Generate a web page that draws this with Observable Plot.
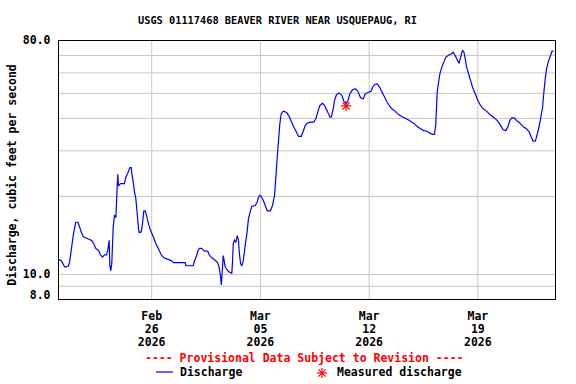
<!DOCTYPE html>
<html><head><meta charset="utf-8">
<script src="https://cdn.jsdelivr.net/npm/d3@7"></script>
<script src="https://cdn.jsdelivr.net/npm/@observablehq/plot@0.6"></script>
<style>
body{margin:0;background:#fff;}
#wrap{position:relative;width:576px;height:384px;overflow:hidden;font-family:"DejaVu Sans Mono",monospace;font-weight:bold;color:#000;}
#title{position:absolute;left:0;top:15.3px;width:555px;text-align:center;font-size:10.3px;line-height:1;white-space:pre;}
#chart{position:absolute;left:0;top:30px;}
.lg{position:absolute;font-size:11.5px;line-height:1;white-space:pre;}
#prov{left:145px;top:353.3px;color:#ff0000;}
</style></head><body>
<div id="wrap">
  <div id="title"></div>
  <div id="chart"></div>
  <div id="prov" class="lg"></div>
  <svg style="position:absolute;left:154px;top:366px" width="22" height="12"><line x1="2" x2="19" y1="6" y2="6" stroke="#0000ff" stroke-width="1.2"/></svg>
  <div id="lg1" class="lg" style="left:180px;top:367.3px"></div>
  <svg style="position:absolute;left:315px;top:366px" width="14" height="14"><g stroke="#ff0000" stroke-width="1.2" transform="translate(7,7)"><line x1="-5" x2="5" y1="0" y2="0"/><line x1="0" x2="0" y1="-5" y2="5"/><line x1="-3.6" x2="3.6" y1="-3.6" y2="3.6"/><line x1="-3.6" x2="3.6" y1="3.6" y2="-3.6"/></g></svg>
  <div id="lg2" class="lg" style="left:337px;top:367.3px"></div>
</div>
<script>
const titleText = "USGS 01117468 BEAVER RIVER NEAR USQUEPAUG, RI";
const yLabel = "Discharge, cubic feet per second";
const provisionalText = "---- Provisional Data Subject to Revision ----";
const seriesName = "Discharge";
const measuredName = "Measured discharge";
const year = 2026;
const xDomain = ["02-20 00:00", "03-24 00:00"];
const yDomain = [8, 80];
const xTicks = ["02-26 00:00", "03-05 00:00", "03-12 00:00", "03-19 00:00"];
const yTickLabels = [10, 80];
const yBottomLabel = [8];
const yGrid = [9, 10, 20, 30, 40, 50, 60, 70];

const times = [
"02-20 00:00","02-20 04:10","02-20 06:10","02-20 09:20","02-20 12:20","02-20 15:30","02-20 17:30","02-20 19:40","02-20 21:40","02-20 23:40",
"02-21 02:40","02-21 05:50","02-21 08:50","02-21 11:00","02-21 14:10","02-21 17:20","02-21 22:20","02-22 03:30","02-22 06:40","02-22 09:40",
"02-22 13:50","02-22 16:50","02-22 20:00","02-22 23:00","02-23 02:10","02-23 04:10","02-23 06:20","02-23 07:20","02-23 08:50","02-23 10:20",
"02-23 12:30","02-23 14:30","02-23 16:40","02-23 18:40","02-23 19:40","02-23 20:40","02-23 23:50","02-24 06:00","02-24 08:00","02-24 11:00",
"02-24 14:10","02-24 16:20","02-24 17:20","02-24 19:30","02-24 21:30","02-24 23:30","02-25 01:40","02-25 03:40","02-25 04:40","02-25 07:50",
"02-25 09:50","02-25 11:50","02-25 14:00","02-25 16:00","02-25 19:00","02-25 22:10","02-26 02:20","02-26 05:30","02-26 09:30","02-26 14:40",
"02-26 18:40","02-27 06:10","02-27 09:20","02-28 03:50","02-28 04:50","02-28 16:10","02-28 18:10","02-28 21:20","02-28 23:20","03-01 01:30",
"03-01 05:30","03-01 09:30","03-01 14:40","03-01 16:50","03-01 20:00","03-01 23:00","03-02 03:00","03-02 06:10","03-02 08:30","03-02 10:30",
"03-02 11:30","03-02 12:30","03-02 14:30","03-02 15:30","03-02 17:30","03-02 20:40","03-02 23:50","03-03 03:50","03-03 05:00","03-03 06:00",
"03-03 08:00","03-03 10:00","03-03 12:10","03-03 14:10","03-03 15:20","03-03 17:20","03-03 19:20","03-03 21:30","03-03 23:30","03-04 01:30",
"03-04 03:30","03-04 05:30","03-04 08:40","03-04 10:40","03-04 16:00","03-04 19:00","03-04 21:00","03-04 23:00","03-05 01:20","03-05 04:30",
"03-05 07:30","03-05 10:30","03-05 15:30","03-05 18:40","03-05 21:50","03-05 23:50","03-06 02:00","03-06 04:00","03-06 06:00","03-06 08:10",
"03-06 11:20","03-06 16:30","03-06 20:30","03-06 23:40","03-07 03:40","03-07 07:50","03-07 11:00","03-07 15:00","03-07 18:10","03-07 21:20",
"03-08 00:20","03-08 05:30","03-08 10:30","03-08 13:40","03-08 16:40","03-08 19:50","03-09 00:00","03-09 03:00","03-09 07:20","03-09 11:20",
"03-09 13:30","03-09 16:30","03-09 18:30","03-09 21:40","03-10 01:50","03-10 05:50","03-10 09:00","03-10 12:00","03-10 15:00","03-10 18:10",
"03-10 22:20","03-11 02:30","03-11 06:30","03-11 10:40","03-11 15:00","03-11 18:00","03-11 23:00","03-12 03:10","03-12 05:20","03-12 08:30",
"03-12 12:30","03-12 15:40","03-12 18:40","03-12 22:40","03-13 03:00","03-13 07:00","03-13 11:00","03-13 16:20","03-13 21:30","03-14 03:40",
"03-14 11:00","03-14 16:00","03-14 22:10","03-15 02:20","03-15 07:30","03-15 12:30","03-15 17:40","03-15 21:50","03-16 02:00","03-16 05:00",
"03-16 07:00","03-16 08:10","03-16 09:10","03-16 11:20","03-16 13:20","03-16 16:20","03-16 19:30","03-16 22:30","03-17 02:40","03-17 07:00",
"03-17 10:00","03-17 13:00","03-17 17:00","03-17 19:10","03-17 21:10","03-17 23:20","03-18 00:30","03-18 02:30","03-18 04:30","03-18 06:30",
"03-18 09:40","03-18 12:40","03-18 15:50","03-18 20:00","03-19 00:00","03-19 04:10","03-19 08:20","03-19 13:30","03-19 18:30","03-19 23:40",
"03-20 05:00","03-20 09:00","03-20 12:10","03-20 15:10","03-20 19:10","03-20 22:30","03-21 01:30","03-21 04:30","03-21 08:40","03-21 11:40",
"03-21 17:00","03-21 22:10","03-22 03:10","03-22 07:30","03-22 10:30","03-22 13:30","03-22 16:40","03-22 18:40","03-22 21:50","03-23 01:00",
"03-23 04:00","03-23 06:00","03-23 08:10","03-23 10:10","03-23 13:10","03-23 16:20","03-23 18:30","03-23 20:30"
];
const discharge = [
11.4,11.3,11.1,10.7,10.7,10.8,11.3,12.4,13.5,14.6,
15.9,15.9,15.2,14.6,14.0,13.85,13.7,13.5,13.1,12.6,
12.4,11.9,11.65,11.9,11.9,12.4,13.5,10.8,10.35,11.0,
15.2,16.9,16.6,21.7,24.3,22.0,22.4,22.4,23.7,24.6,
25.8,25.9,24.5,22.7,20.8,19.6,17.1,15.0,14.5,14.6,
15.7,17.6,17.6,16.9,15.7,14.8,14.0,13.3,12.7,11.9,
11.6,11.3,11.1,11.1,10.8,10.8,11.3,11.8,12.3,12.6,
12.6,12.3,12.3,11.9,11.65,11.5,11.3,11.05,10.6,9.75,
9.14,9.75,11.8,11.5,10.7,10.4,10.2,10.1,11.3,13.1,
13.6,13.3,14.1,13.5,12.2,11.0,10.8,11.3,12.4,13.5,
14.6,16.4,17.6,18.3,18.45,19.0,19.9,20.2,20.0,19.3,
18.45,17.6,17.6,18.45,20.2,23.7,28.4,32.9,38.1,41.7,
42.7,42.2,40.7,39.0,37.0,35.4,34.1,34.1,35.7,37.6,
38.4,38.7,38.7,39.9,42.3,44.9,45.8,44.9,42.7,40.5,
40.5,43.6,46.9,49.5,50.1,49.1,46.6,45.6,46.6,49.8,
51.6,52.1,51.0,48.1,47.6,49.8,50.5,51.0,52.8,54.1,
54.4,53.1,51.3,49.1,46.6,44.9,43.6,42.6,41.4,40.5,
39.7,39.0,38.1,37.2,36.5,35.9,35.7,35.1,34.7,34.7,
38.1,44.2,50.5,55.2,59.5,63.1,66.0,69.0,70.2,71.1,
72.1,70.0,66.6,65.4,68.6,72.1,73.2,72.1,68.0,63.1,
59.5,56.1,52.8,49.8,46.9,44.9,43.6,42.7,41.4,40.5,
39.5,38.4,37.2,36.2,35.9,37.2,39.3,40.2,40.2,39.3,
38.4,37.2,36.5,35.4,33.9,32.7,32.7,33.9,36.5,39.9,
44.2,50.5,56.9,62.2,66.6,70.0,72.8,72.8
];
const measuredTimes = ["03-10 12:20"];
const measuredValues = [44.7];

const parse = d3.utcParse("%Y-%m-%d %H:%M");
const toDate = s => parse(year + "-" + s);
const data = times.map((t, i) => ({date: toDate(t), value: discharge[i]}));
const measured = measuredTimes.map((t, i) => ({date: toDate(t), value: measuredValues[i]}));
const tickDates = xTicks.map(toDate);
const fmt = d3.utcFormat("%b\n%d\n%Y");

document.getElementById("title").textContent = titleText;
document.getElementById("prov").textContent = provisionalText;
document.getElementById("lg1").textContent = seriesName;
document.getElementById("lg2").textContent = measuredName;

const chart = Plot.plot({
  width: 576,
  height: 315,
  marginTop: 10,
  marginLeft: 58,
  marginRight: 21,
  marginBottom: 46,
  style: {fontFamily: "DejaVu Sans Mono, monospace", fontWeight: "bold", fontSize: "11.5px", color: "#000", background: "#fff", overflow: "visible"},
  x: {type: "utc", domain: xDomain.map(toDate)},
  y: {type: "log", domain: yDomain, axis: null},
  marks: [
    Plot.gridX(tickDates, {stroke: "#c8c8c8", strokeOpacity: 1}),
    Plot.gridY(yGrid, {stroke: "#c8c8c8", strokeOpacity: 1}),
    Plot.axisX(tickDates, {tickSize: 0, tickPadding: 11, tickFormat: fmt, lineHeight: 1.13, label: null}),
    Plot.text(yTickLabels, {y: d => d, text: d => d.toFixed(1), frameAnchor: "left", textAnchor: "end", dx: -8, fontSize: 11.5}),
    Plot.text(yBottomLabel, {y: d => d, text: d => d.toFixed(1), frameAnchor: "left", textAnchor: "end", dx: -8, dy: -4, fontSize: 11.5}),
    Plot.line(data, {x: "date", y: "value", stroke: "#0000ff", strokeWidth: 1.2}),
    Plot.dot(measured, {x: "date", y: "value", symbol: "plus", r: 3.3, stroke: "#ff0000", strokeWidth: 1.2}),
    Plot.dot(measured, {x: "date", y: "value", symbol: "times", r: 3.3, stroke: "#ff0000", strokeWidth: 1.2}),
    Plot.text([yLabel], {text: d => d, frameAnchor: "left", textAnchor: "middle", rotate: -90, dx: -46, dy: 5, fontSize: 11.5}),
    Plot.frame({stroke: "#000", strokeWidth: 1})
  ]
});
document.getElementById("chart").appendChild(chart);
</script>
</body></html>
